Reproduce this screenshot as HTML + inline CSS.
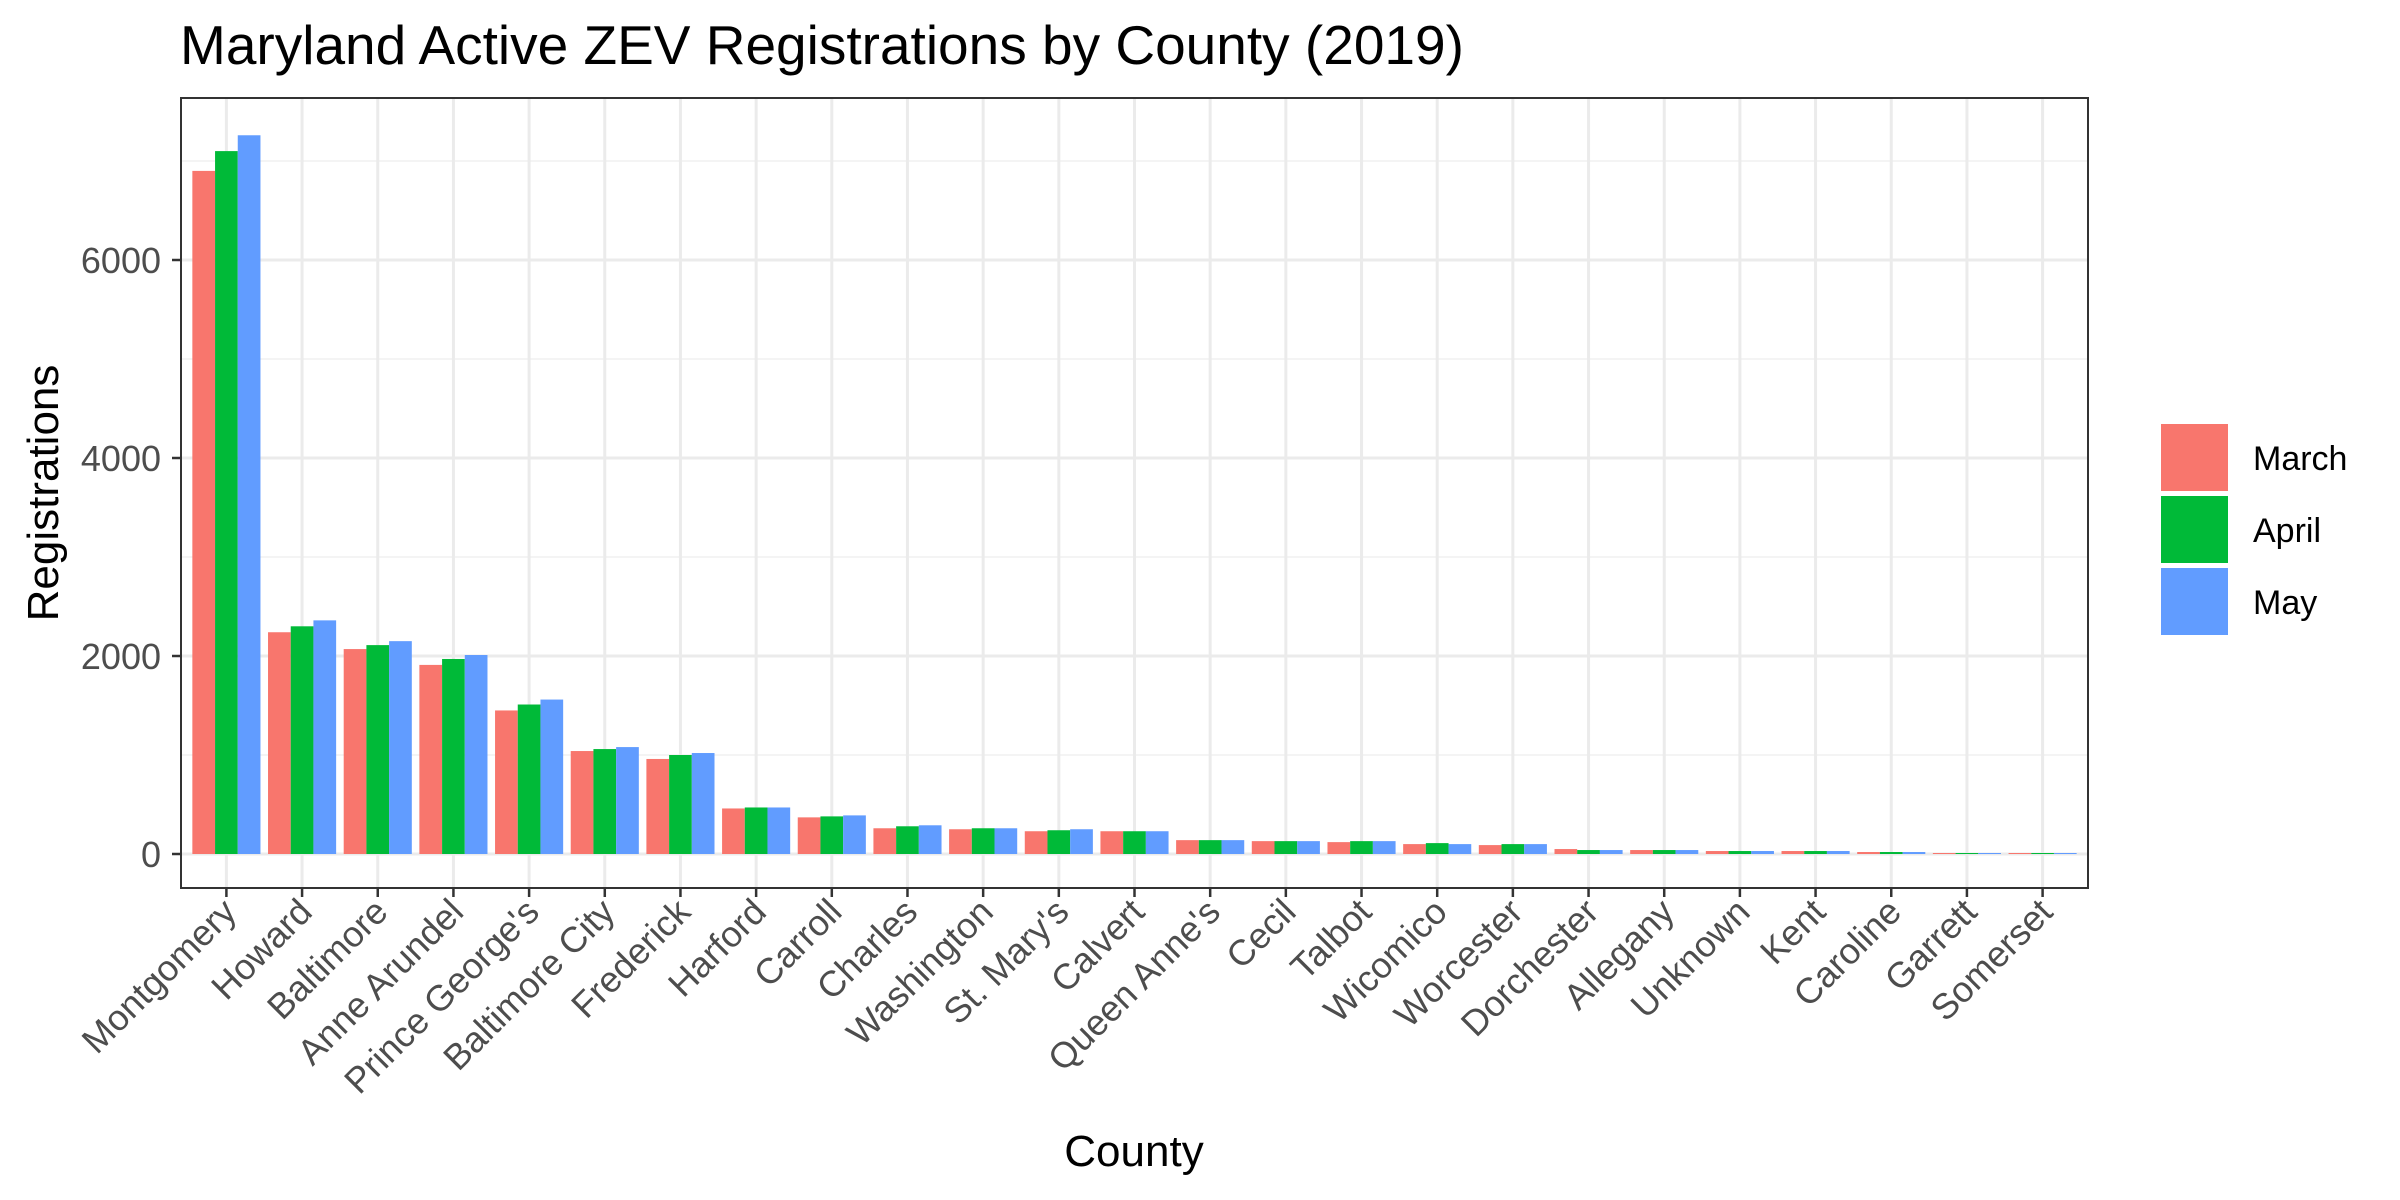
<!DOCTYPE html>
<html><head><meta charset="utf-8"><style>
html,body{margin:0;padding:0;background:#fff}
svg{display:block;font-family:"Liberation Sans",Arial,sans-serif}
</style></head><body>
<svg id="chart" width="2400" height="1200" viewBox="0 0 2400 1200" xmlns="http://www.w3.org/2000/svg">
<rect width="2400" height="1200" fill="#fff"/>
<text x="180" y="64" font-size="55" fill="#000">Maryland Active ZEV Registrations by County (2019)</text>
<g id="grid"></g><g id="bars"></g><g id="axes"></g><g id="legend"></g>
<text x="1134" y="1166" font-size="44" text-anchor="middle">County</text>
<text transform="translate(58,493) rotate(-90)" font-size="44" text-anchor="middle">Registrations</text>
</svg>
<script>
const categories=["Montgomery","Howard","Baltimore","Anne Arundel","Prince George's","Baltimore City","Frederick","Harford","Carroll","Charles","Washington","St. Mary's","Calvert","Queen Anne's","Cecil","Talbot","Wicomico","Worcester","Dorchester","Allegany","Unknown","Kent","Caroline","Garrett","Somerset"];
const march=[6900,2240,2070,1910,1450,1040,960,460,370,260,250,230,230,140,130,120,100,90,50,40,30,30,20,10,10];
const april=[7100,2300,2110,1970,1510,1060,1000,470,380,280,260,240,230,140,130,130,110,100,40,40,30,30,20,10,10];
const may=[7260,2360,2150,2010,1560,1080,1020,470,390,290,260,250,230,140,130,130,100,100,40,40,30,30,20,10,10];
const seriesNames=["March","April","May"];
const yTicks=[0,2000,4000,6000];
const yMinor=[1000,3000,5000,7000];
const colors=["#F8766D","#00BA38","#619CFF"];
const NS="http://www.w3.org/2000/svg";
const L=181,R=2088,T=98,B=888;
const n=categories.length;
const unit=(R-L)/(n-1+1.2);
function xS(i){return L+unit*(i+0.6);}
function yS(v){return 854-v*(198/2000);}
function mk(tag,attrs,parent){const e=document.createElementNS(NS,tag);for(const k in attrs)e.setAttribute(k,attrs[k]);parent.appendChild(e);return e;}
const grid=document.getElementById('grid'),bars=document.getElementById('bars'),axes=document.getElementById('axes'),leg=document.getElementById('legend');
yMinor.forEach(v=>{const l=mk('line',{x1:L,x2:R,y1:yS(v),y2:yS(v),stroke:'#f0f0f0','stroke-width':1.5},grid);

});
yTicks.forEach(v=>{const l=mk('line',{x1:L,x2:R,y1:yS(v),y2:yS(v),stroke:'#ebebeb','stroke-width':3},grid);

});
categories.forEach((c,i)=>{const l=mk('line',{x1:xS(i),x2:xS(i),y1:T,y2:B,stroke:'#ebebeb','stroke-width':3},grid);

});
const series=[march,april,may];
const bw=unit*0.9/3;
categories.forEach((c,i)=>{series.forEach((s,k)=>{const x=xS(i)-unit*0.45+k*bw;const r=mk('rect',{x:x,y:yS(s[i]),width:bw,height:yS(0)-yS(s[i]),fill:colors[k]},bars);

});});
const frame=mk('rect',{x:L,y:T,width:R-L,height:B-T,fill:'none',stroke:'#333','stroke-width':2},axes);


yTicks.forEach(v=>{mk('line',{x1:L-9,x2:L,y1:yS(v),y2:yS(v),stroke:'#333','stroke-width':2.5},axes);
const t=mk('text',{x:L-20,y:yS(v)+13,'font-size':36,fill:'#4d4d4d','text-anchor':'end'},axes);t.textContent=v;

});
categories.forEach((c,i)=>{mk('line',{x1:xS(i),x2:xS(i),y1:B,y2:B+9,stroke:'#333','stroke-width':2.5},axes);
const t=mk('text',{transform:`translate(${xS(i)+12},${B+26}) rotate(-45)`,'font-size':36,fill:'#4d4d4d','text-anchor':'end'},axes);t.textContent=c;

});
seriesNames.forEach((s,k)=>{const y=423+k*72;const r=mk('rect',{x:2160,y:y,width:69,height:69,fill:colors[k],stroke:'#fff','stroke-width':2},leg);


const t=mk('text',{x:2253,y:y+47,'font-size':34,fill:'#000'},leg);t.textContent=s;

});
</script>
</body></html>
